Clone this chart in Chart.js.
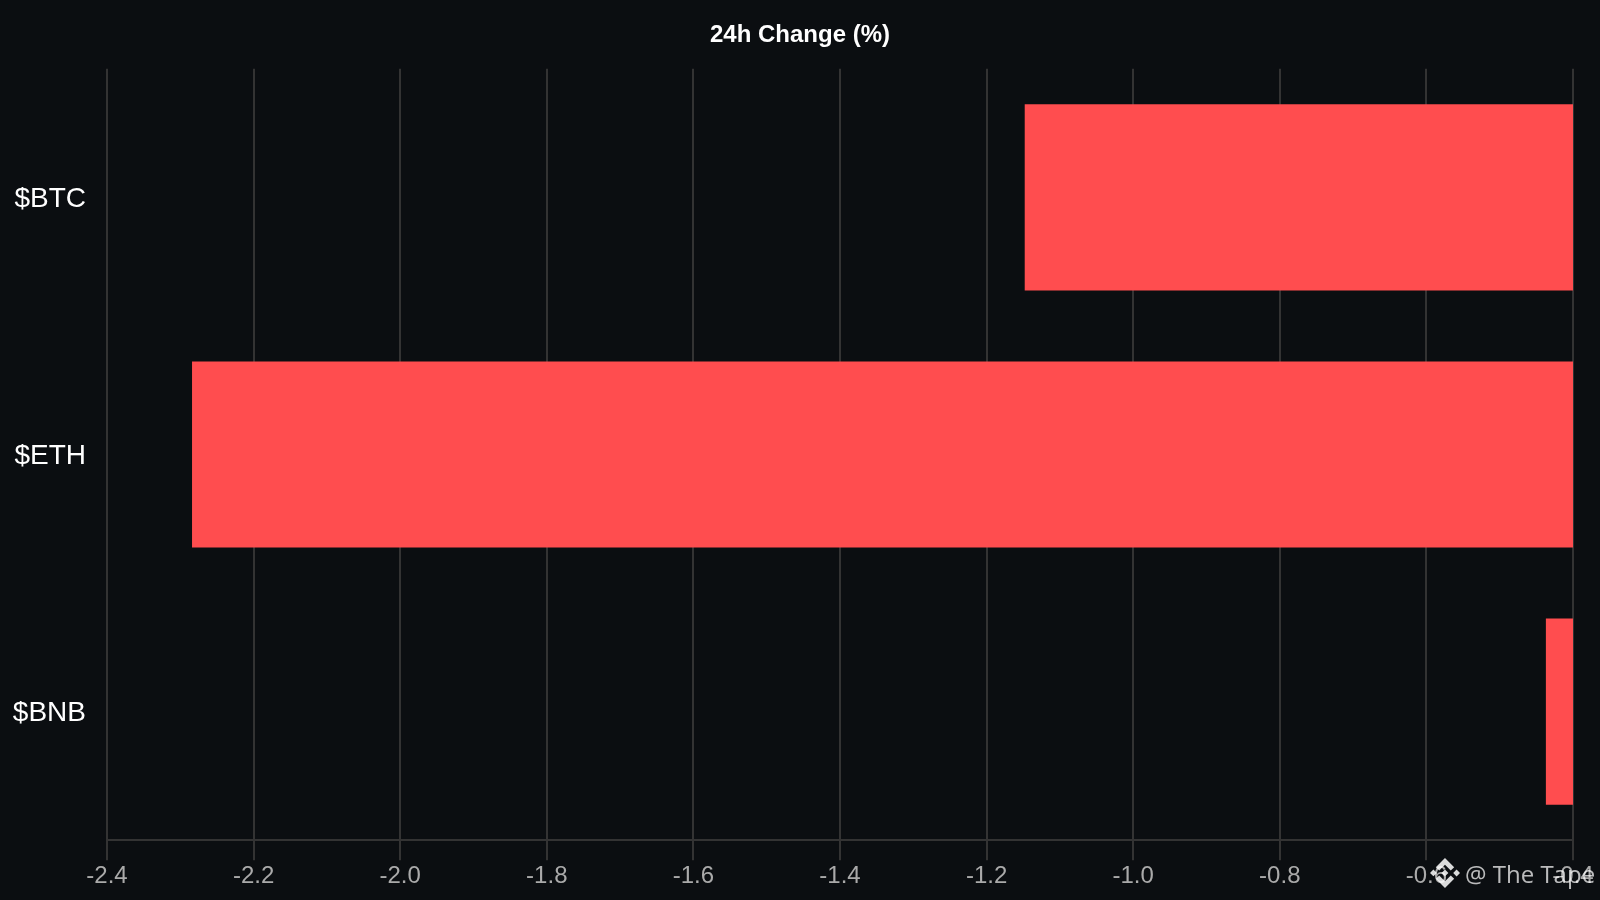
<!DOCTYPE html>
<html>
<head>
<meta charset="utf-8">
<style>
  html, body { margin: 0; padding: 0; background: #0b0e11; width: 1600px; height: 900px; overflow: hidden; }
  #wrap { position: relative; width: 1600px; height: 900px; }
  #mark { position: absolute; left: 1430px; top: 855px; height: 36px; display: flex; align-items: center; color: rgba(255,255,255,0.72); font: 24px "Open Sans", sans-serif; white-space: nowrap; }
  #mark svg { width: 30px; height: 30px; margin-right: 5px; fill: rgba(255,255,255,0.85); }
</style>
</head>
<body>
<div id="wrap">
  <canvas id="changeChart" width="1600" height="900"></canvas>
  <div id="mark">
    <svg viewBox="0 0 24 24"><path d="M16.624 13.9202l2.7175 2.7154-7.353 7.353-7.353-7.352 2.7175-2.7164 4.6355 4.6595 4.6356-4.6595zm4.6366-4.6366L24 12l-2.7154 2.7164L18.5682 12l2.6924-2.7164zm-9.272.001l2.7163 2.6914-2.7164 2.7174v-.001L9.2721 12l2.7164-2.7154zm-9.2722-.001L5.4088 12l-2.6914 2.6924L0 12l2.7164-2.7164zM11.9885.0115l7.353 7.329-2.7174 2.7154-4.6356-4.6356-4.6355 4.6595-2.7174-2.7154 7.353-7.353z"/></svg>
    <span>@ The Tape</span>
  </div>
</div>
<script src="https://cdn.jsdelivr.net/npm/chart.js@4"></script>
<script>
const coins = ['$BTC', '$ETH', '$BNB'];
const changes = [-1.148, -2.284, -0.437];

new Chart(document.getElementById('changeChart'), {
    type: 'bar',
    data: {
        labels: coins,
        datasets: [{
            label: '24h Change (%)',
            data: changes,
            backgroundColor: '#ff4d4f',
            borderWidth: 0,
            barPercentage: 0.724,
            categoryPercentage: 1
        }]
    },
    options: {
        indexAxis: 'y',
        responsive: false,
        animation: false,
        devicePixelRatio: 1,
        layout: { padding: { left: 0, right: 0, top: 0, bottom: 7 } },
        plugins: {
            legend: { display: false },
            tooltip: { enabled: false },
            title: {
                display: true,
                text: '24h Change (%)',
                color: '#ffffff',
                font: { family: '"Liberation Sans", Arial, sans-serif', size: 24, weight: 'bold' },
                padding: { top: 21, bottom: 19 }
            }
        },
        scales: {
            x: {
                min: -2.4,
                max: -0.4,
                afterFit: s => { s.paddingRight = 27; },
                grid: { color: '#333333', lineWidth: 2, tickLength: 20, tickColor: '#333333' },
                border: { color: '#333333', width: 2 },
                ticks: {
                    stepSize: 0.2,
                    color: '#aaaaaa',
                    padding: 2,
                    maxRotation: 0,
                    font: { family: '"Liberation Sans", Arial, sans-serif', size: 24 },
                    callback: v => v.toFixed(1)
                }
            },
            y: {
                afterFit: s => { s.width = 107; },
                grid: { display: false },
                border: { display: false },
                ticks: {
                    color: '#ffffff',
                    padding: 13,
                    labelOffset: 2,
                    font: { family: '"Liberation Sans", Arial, sans-serif', size: 28 }
                }
            }
        }
    },
    plugins: [{
        id: 'bg',
        beforeDraw: c => {
            c.ctx.save();
            c.ctx.fillStyle = '#0b0e11';
            c.ctx.fillRect(0, 0, c.width, c.height);
            c.ctx.restore();
        }
    }]
});
</script>
</body>
</html>
